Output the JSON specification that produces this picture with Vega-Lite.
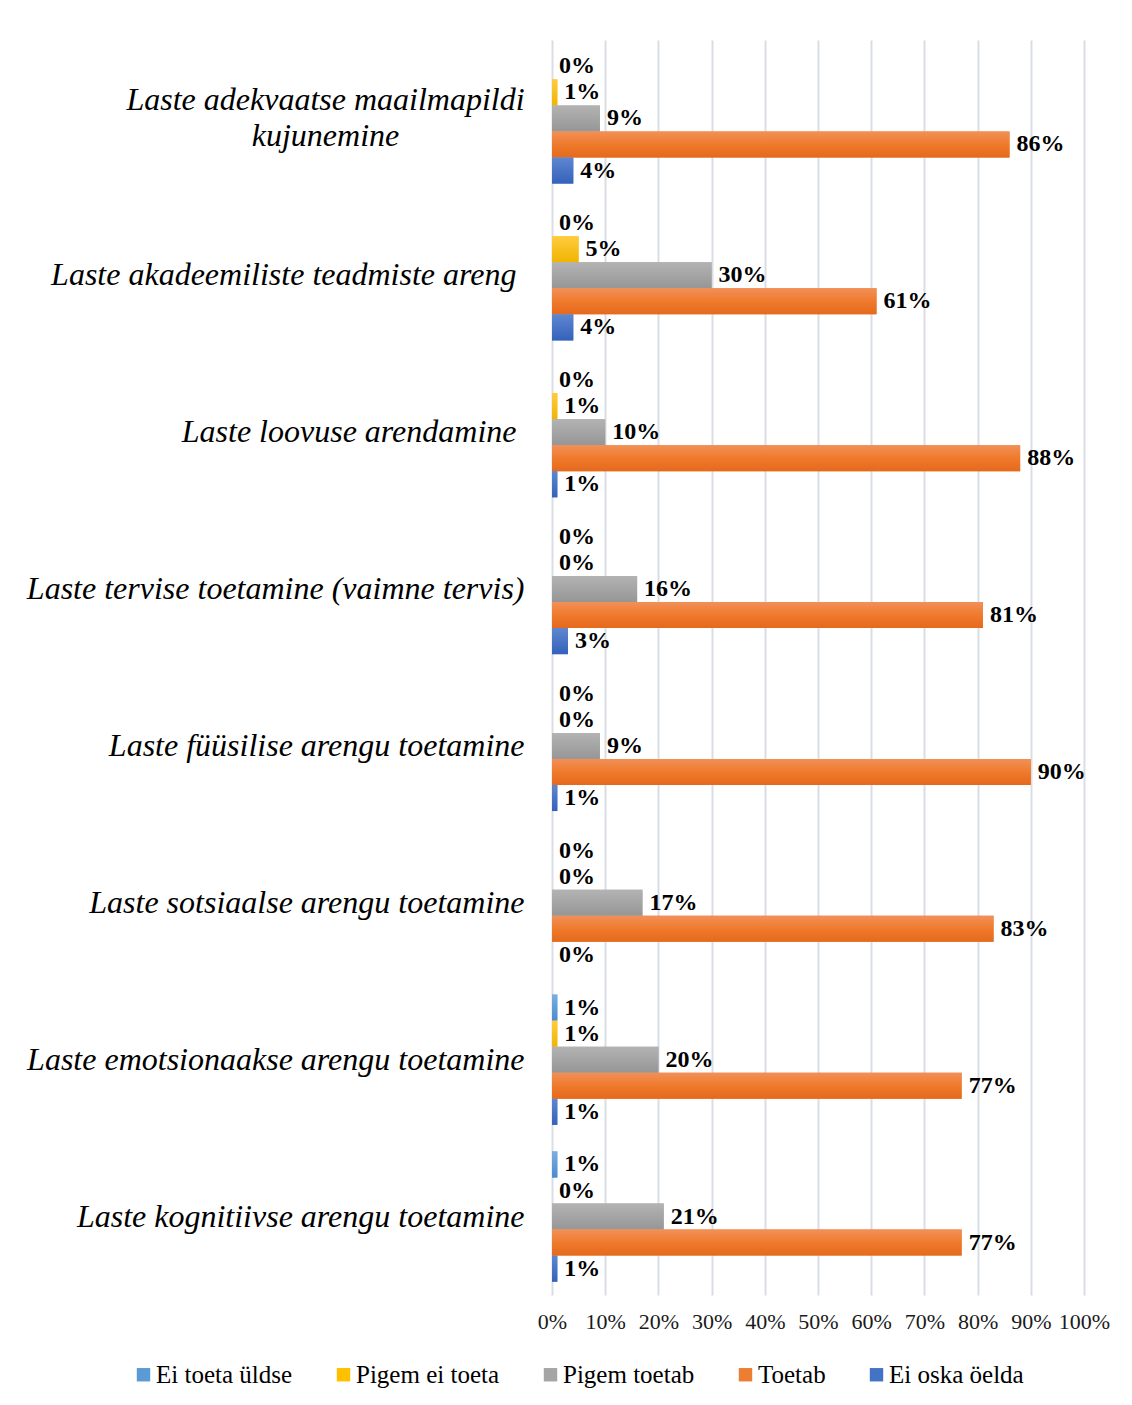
{
  "$schema": "https://vega.github.io/schema/vega-lite/v6.json",
  "width": 532,
  "height": 1255,
  "autosize": {"type": "none"},
  "padding": {"left": 552, "top": 40, "right": 48, "bottom": 110},
  "background": "white",
  "config": {
    "view": {"stroke": null},
    "font": "Liberation Serif"
  },
  "data": {
    "values": [
      {"cat": "Laste adekvaatse maailmapildi kujunemine", "series": "Ei toeta üldse", "value": 0},
      {"cat": "Laste adekvaatse maailmapildi kujunemine", "series": "Pigem ei toeta", "value": 0.01},
      {"cat": "Laste adekvaatse maailmapildi kujunemine", "series": "Pigem toetab", "value": 0.09},
      {"cat": "Laste adekvaatse maailmapildi kujunemine", "series": "Toetab", "value": 0.86},
      {"cat": "Laste adekvaatse maailmapildi kujunemine", "series": "Ei oska öelda", "value": 0.04},
      {"cat": "Laste akadeemiliste teadmiste areng", "series": "Ei toeta üldse", "value": 0},
      {"cat": "Laste akadeemiliste teadmiste areng", "series": "Pigem ei toeta", "value": 0.05},
      {"cat": "Laste akadeemiliste teadmiste areng", "series": "Pigem toetab", "value": 0.30},
      {"cat": "Laste akadeemiliste teadmiste areng", "series": "Toetab", "value": 0.61},
      {"cat": "Laste akadeemiliste teadmiste areng", "series": "Ei oska öelda", "value": 0.04},
      {"cat": "Laste loovuse arendamine", "series": "Ei toeta üldse", "value": 0},
      {"cat": "Laste loovuse arendamine", "series": "Pigem ei toeta", "value": 0.01},
      {"cat": "Laste loovuse arendamine", "series": "Pigem toetab", "value": 0.10},
      {"cat": "Laste loovuse arendamine", "series": "Toetab", "value": 0.88},
      {"cat": "Laste loovuse arendamine", "series": "Ei oska öelda", "value": 0.01},
      {"cat": "Laste tervise toetamine (vaimne tervis)", "series": "Ei toeta üldse", "value": 0},
      {"cat": "Laste tervise toetamine (vaimne tervis)", "series": "Pigem ei toeta", "value": 0},
      {"cat": "Laste tervise toetamine (vaimne tervis)", "series": "Pigem toetab", "value": 0.16},
      {"cat": "Laste tervise toetamine (vaimne tervis)", "series": "Toetab", "value": 0.81},
      {"cat": "Laste tervise toetamine (vaimne tervis)", "series": "Ei oska öelda", "value": 0.03},
      {"cat": "Laste füüsilise arengu toetamine", "series": "Ei toeta üldse", "value": 0},
      {"cat": "Laste füüsilise arengu toetamine", "series": "Pigem ei toeta", "value": 0},
      {"cat": "Laste füüsilise arengu toetamine", "series": "Pigem toetab", "value": 0.09},
      {"cat": "Laste füüsilise arengu toetamine", "series": "Toetab", "value": 0.90},
      {"cat": "Laste füüsilise arengu toetamine", "series": "Ei oska öelda", "value": 0.01},
      {"cat": "Laste sotsiaalse arengu toetamine", "series": "Ei toeta üldse", "value": 0},
      {"cat": "Laste sotsiaalse arengu toetamine", "series": "Pigem ei toeta", "value": 0},
      {"cat": "Laste sotsiaalse arengu toetamine", "series": "Pigem toetab", "value": 0.17},
      {"cat": "Laste sotsiaalse arengu toetamine", "series": "Toetab", "value": 0.83},
      {"cat": "Laste sotsiaalse arengu toetamine", "series": "Ei oska öelda", "value": 0},
      {"cat": "Laste emotsionaakse arengu toetamine", "series": "Ei toeta üldse", "value": 0.01},
      {"cat": "Laste emotsionaakse arengu toetamine", "series": "Pigem ei toeta", "value": 0.01},
      {"cat": "Laste emotsionaakse arengu toetamine", "series": "Pigem toetab", "value": 0.20},
      {"cat": "Laste emotsionaakse arengu toetamine", "series": "Toetab", "value": 0.77},
      {"cat": "Laste emotsionaakse arengu toetamine", "series": "Ei oska öelda", "value": 0.01},
      {"cat": "Laste kognitiivse arengu toetamine", "series": "Ei toeta üldse", "value": 0.01},
      {"cat": "Laste kognitiivse arengu toetamine", "series": "Pigem ei toeta", "value": 0},
      {"cat": "Laste kognitiivse arengu toetamine", "series": "Pigem toetab", "value": 0.21},
      {"cat": "Laste kognitiivse arengu toetamine", "series": "Toetab", "value": 0.77},
      {"cat": "Laste kognitiivse arengu toetamine", "series": "Ei oska öelda", "value": 0.01}
    ]
  },
  "encoding": {
    "y": {
      "field": "cat",
      "type": "nominal",
      "sort": null,
      "scale": {"paddingInner": 0.17, "paddingOuter": 0.085},
      "axis": {
        "title": null,
        "domain": false,
        "ticks": false,
        "grid": false,
        "labelFont": "Liberation Serif",
        "labelFontStyle": "italic",
        "labelFontSize": 32,
        "labelColor": "#000000",
        "labelLimit": 700,
        "labelLineHeight": 36,
        "labelAlign": {"condition": {"test": "datum.value == 'Laste adekvaatse maailmapildi kujunemine'", "value": "center"}, "value": "right"},
        "labelPadding": {"condition": [
          {"test": "datum.value == 'Laste adekvaatse maailmapildi kujunemine'", "value": 227},
          {"test": "datum.value == 'Laste akadeemiliste teadmiste areng' || datum.value == 'Laste loovuse arendamine'", "value": 36}
        ], "value": 28},
        "labelOffset": {"condition": {"test": "datum.value == 'Laste adekvaatse maailmapildi kujunemine'", "value": -18}, "value": 0},
        "labelExpr": "datum.label == 'Laste adekvaatse maailmapildi kujunemine' ? ['Laste adekvaatse maailmapildi', 'kujunemine'] : datum.label"
      }
    },
    "yOffset": {
      "field": "series",
      "type": "nominal",
      "sort": ["Ei toeta üldse", "Pigem ei toeta", "Pigem toetab", "Toetab", "Ei oska öelda"],
      "scale": {"paddingInner": 0, "paddingOuter": 0}
    },
    "x": {
      "field": "value",
      "type": "quantitative",
      "scale": {"domain": [0, 1], "nice": false},
      "axis": {
        "title": null,
        "format": ".0%",
        "values": [0, 0.1, 0.2, 0.3, 0.4, 0.5, 0.6, 0.7, 0.8, 0.9, 1],
        "domain": false,
        "ticks": false,
        "grid": true,
        "gridColor": "#D9DDE4",
        "gridWidth": 2,
        "labelOverlap": false,
        "labelFlush": false,
        "labelFont": "Liberation Serif",
        "labelFontSize": 22,
        "labelColor": "#1a1a1a",
        "labelPadding": 16
      }
    }
  },
  "layer": [
    {
      "mark": {"type": "bar"},
      "encoding": {
        "color": {
          "field": "series",
          "type": "nominal",
          "sort": ["Ei toeta üldse", "Pigem ei toeta", "Pigem toetab", "Toetab", "Ei oska öelda"],
          "scale": {
            "domain": ["Ei toeta üldse", "Pigem ei toeta", "Pigem toetab", "Toetab", "Ei oska öelda"],
            "range": ["#5B9BD5", "#FFC000", "#A5A5A5", "#ED7D31", "#4472C4"]
          },
          "legend": {
            "title": null,
            "orient": "none",
            "direction": "horizontal",
            "legendX": -421,
            "legendY": 1322,
            "symbolType": "square",
            "symbolSize": 180,
            "symbolStrokeWidth": 0,
            "labelFont": "Liberation Serif",
            "labelFontSize": 25,
            "labelColor": "#000000",
            "labelOffset": 0,
            "columnPadding": 38,
            "labelLimit": 300
          }
        }
      }
    },
    {
      "mark": {"type": "bar"},
      "encoding": {
        "fill": {
          "condition": [
            {"test": "datum.series == 'Ei toeta üldse'", "value": {"gradient": "linear", "x1": 0, "y1": 0, "x2": 0, "y2": 1, "stops": [{"offset": 0, "color": "#7BAFE0"}, {"offset": 1, "color": "#4A8BD0"}]}},
            {"test": "datum.series == 'Pigem ei toeta'", "value": {"gradient": "linear", "x1": 0, "y1": 0, "x2": 0, "y2": 1, "stops": [{"offset": 0, "color": "#FFCC40"}, {"offset": 1, "color": "#F0B400"}]}},
            {"test": "datum.series == 'Pigem toetab'", "value": {"gradient": "linear", "x1": 0, "y1": 0, "x2": 0, "y2": 1, "stops": [{"offset": 0, "color": "#B3B3B3"}, {"offset": 1, "color": "#969696"}]}},
            {"test": "datum.series == 'Toetab'", "value": {"gradient": "linear", "x1": 0, "y1": 0, "x2": 0, "y2": 1, "stops": [{"offset": 0, "color": "#F29058"}, {"offset": 0.5, "color": "#EF7A2C"}, {"offset": 1, "color": "#E5691C"}]}}
          ],
          "value": {"gradient": "linear", "x1": 0, "y1": 0, "x2": 0, "y2": 1, "stops": [{"offset": 0, "color": "#5F87D0"}, {"offset": 1, "color": "#3461BA"}]}
        }
      }
    },
    {
      "mark": {
        "type": "text",
        "align": "left",
        "baseline": "middle",
        "dx": 7,
        "font": "Liberation Serif",
        "fontWeight": "bold",
        "fontSize": 24,
        "color": "#000000"
      },
      "encoding": {
        "text": {"field": "value", "type": "quantitative", "format": ".0%"}
      }
    }
  ]
}
